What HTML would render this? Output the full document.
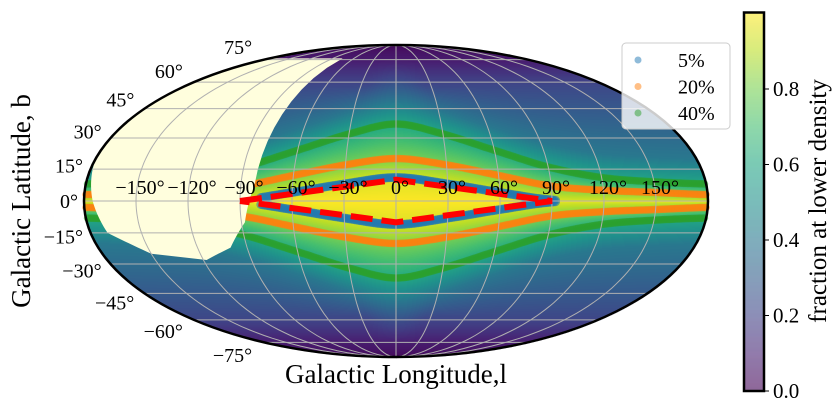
<!DOCTYPE html>
<html><head><meta charset="utf-8"><style>
html,body{margin:0;padding:0;background:#fff;width:838px;height:412px;overflow:hidden}
#wrap{position:relative;width:838px;height:412px}
canvas,svg{position:absolute;left:0;top:0}
text{font-family:"Liberation Serif",serif;fill:#000}
</style></head><body>
<div id="wrap">
<canvas id="heat" width="838" height="412"></canvas>
<svg id="svg" width="838" height="412"></svg>
</div>
<script>
// ---- data ----
const lonKnots = [-180,-150,-120,-90,-60,-30,0,30,60,90,120,150,180];
const width5  = [0,0,0,0.5,4,8,11,8,4,0.5,0,0,0];
const width20 = [3,4,5,7,12,17,20,17,12,7,5,4,3];
const width40 = [8,9,11,16,24,32,37,32,24,16,11,9,8];
const seriesNames = ["5%","20%","40%"];
const maskLon = [-76,-82,-88,-100,-118,-150,-170,-175,-178,-180];
const maskLat = [76,8,-10,-22,-28,-25,-15,0,12,20];
const diamondLon = [-90,0,90,0,-90];
const diamondLat = [0,10,0,-10,0];
const lonTicks = [-150,-120,-90,-60,-30,0,30,60,90,120,150];
const latTicks = [-75,-60,-45,-30,-15,0,15,30,45,60,75];
const cbTicks = [0.0,0.2,0.4,0.6,0.8];

// ---- projection ----
const CX=396, CY=201, A=312, B=156;
function theta(lat){const t=Math.PI*Math.sin(lat*Math.PI/180);let th=lat*Math.PI/180;
  for(let i=0;i<30;i++){const f=2*th+Math.sin(2*th)-t;const d=2+2*Math.cos(2*th);if(Math.abs(d)<1e-9)break;th-=f/d;}return th;}
function proj(lon,lat){const th=theta(lat);return [CX+A*(lon/180)*Math.cos(th), CY-B*Math.sin(th)];}
function interp(xs,ys,x){if(x<=xs[0])return ys[0];for(let i=1;i<xs.length;i++){if(x<=xs[i]){const t=(x-xs[i-1])/(xs[i]-xs[i-1]);return ys[i-1]+t*(ys[i]-ys[i-1]);}}return ys[ys.length-1];}
// smooth (Catmull-Rom) interpolation for contour widths
function smooth(xs,ys,x){if(x<=xs[0])return ys[0];if(x>=xs[xs.length-1])return ys[ys.length-1];
  let i=1;while(x>xs[i])i++;const t=(x-xs[i-1])/(xs[i]-xs[i-1]);
  const p0=ys[Math.max(0,i-2)],p1=ys[i-1],p2=ys[i],p3=ys[Math.min(ys.length-1,i+1)];
  const v=0.5*((2*p1)+(-p0+p2)*t+(2*p0-5*p1+4*p2-p3)*t*t+(-p0+3*p1-3*p2+p3)*t*t*t);return Math.max(0,v);}
function viridis(t){t=Math.max(0,Math.min(1,t));
  const c=[[68,1,84],[72,35,116],[64,67,135],[52,94,141],[41,120,142],[32,144,140],[34,167,132],[68,190,112],[121,209,81],[189,222,38],[253,231,37]];
  const p=t*10,i=Math.min(9,Math.floor(p)),f=p-i;return c[i].map((v,k)=>v+f*(c[i+1][k]-v));}

// ---- heatmap ----
const ctx=document.getElementById('heat').getContext('2d');
const img=ctx.createImageData(838,412);
for(let y=0;y<412;y++){const s=(CY-y)/B;if(Math.abs(s)>1)continue;const th=Math.asin(s);
  const lat=Math.asin(Math.max(-1,Math.min(1,(2*th+Math.sin(2*th))/Math.PI)))*180/Math.PI;
  for(let x=0;x<838;x++){const lon=180*(x-CX)/(A*Math.cos(th));if(Math.abs(lon)>180)continue;
    const wb=smooth(lonKnots,width5,lon),wo=smooth(lonKnots,width20,lon),wg=smooth(lonKnots,width40,lon);
    const b=Math.abs(lat);
    const v=interp([0,Math.max(wb,0.01),wo,wg,wg+12,Math.max(wg+25,58),75,90],[1,0.95,0.8,0.6,0.4,0.22,0.08,0.02],b);
    const c=viridis(v);const o=(y*838+x)*4;img.data[o]=c[0];img.data[o+1]=c[1];img.data[o+2]=c[2];img.data[o+3]=255;}}
ctx.putImageData(img,0,0);

// ---- svg ----
const NS="http://www.w3.org/2000/svg", svg=document.getElementById('svg');
function mk(tag,attrs,parent){const e=document.createElementNS(NS,tag);for(const k in attrs)e.setAttribute(k,attrs[k]);(parent||svg).appendChild(e);return e;}

// mask (unobserved region)
let pts=[];
for(let l=-180;l<=maskLon[0];l+=2)pts.push(proj(l,76));
for(let i=0;i<maskLon.length-1;i++){for(let k=0;k<10;k++){const t=k/10;pts.push(proj(maskLon[i]+t*(maskLon[i+1]-maskLon[i]),maskLat[i]+t*(maskLat[i+1]-maskLat[i])));}}
for(let la=maskLat[maskLat.length-1];la<=76;la+=2)pts.push(proj(-180,la));
const mask=mk('polygon',{points:pts.map(p=>p.join(',')).join(' '),fill:'#fffedd'});



// grid
const grid=mk('g',{stroke:'#b0b0b0','stroke-width':1,fill:'none'});


for(const la of latTicks){const p1=proj(-180,la),p2=proj(180,la);const ln=mk('line',{x1:p1[0],y1:p1[1],x2:p2[0],y2:p2[1]},grid);
  
  }
for(let lo=-150;lo<=150;lo+=30){let d='';for(let la=-90;la<=90;la+=2){const p=proj(lo,la);d+=(la==-90?'M':'L')+p[0].toFixed(1)+','+p[1].toFixed(1);}
  const m=mk('path',{d:d},grid);
  
  }

// contours
const colors=['#1f77b4','#ff7f0e','#2ca02c'];
const widths=[width5,width20,width40];
for(let s=2;s>=0;s--){const g=mk('g',{fill:colors[s],'fill-opacity':0.55});
  
  
  for(let lo=-179;lo<=179;lo+=1){const w=smooth(lonKnots,widths[s],lo);
    if(s===0&&(lo<-78||lo>92))continue;
    for(const sg of [1,-1]){const p=proj(lo,sg*w);const c=mk('circle',{cx:p[0].toFixed(1),cy:p[1].toFixed(1),r:s===0?4.5:3.8},g);
      
      }}}
svg.appendChild(mask);svg.appendChild(grid);

// diamond
let dd='';for(let i=0;i<diamondLon.length;i++){const p=proj(diamondLon[i],diamondLat[i]);dd+=(i?'L':'M')+p[0].toFixed(1)+','+p[1].toFixed(1);}
const dia=mk('path',{d:dd,fill:'none',stroke:'#ff0000','stroke-width':6,'stroke-dasharray':'22,9'});



// outline
const el=mk('ellipse',{cx:CX,cy:CY,rx:A,ry:B,fill:'none',stroke:'#000','stroke-width':2.5});



// lon labels
for(const lo of lonTicks){const p=proj(lo,0);const t=mk('text',{x:p[0]+4,y:CY-7,'font-size':20,'text-anchor':'middle'});
  t.textContent=(lo<0?'\u2212'+(-lo):lo)+'\u00b0';
  
  }
// lat labels
for(const la of latTicks){const p=proj(-180,la);const s=Math.sin(la*Math.PI/180);
  const t=mk('text',{x:p[0]-6-6*Math.abs(s),y:p[1]-13*s+7,'font-size':20,'text-anchor':'end'});
  t.textContent=(la<0?'\u2212'+(-la):la)+'\u00b0';
  
  }

// axis titles
const xt=mk('text',{x:396,y:383,'font-size':27,'text-anchor':'middle'});xt.textContent='Galactic Longitude,l';


const yt=mk('text',{x:0,y:0,'font-size':27,'text-anchor':'middle',transform:'translate(30,201) rotate(-90)'});yt.textContent='Galactic Latitude, b';



// legend
const lg=mk('g',{});


mk('rect',{x:622,y:43,width:108,height:86,rx:4,fill:'#fff','fill-opacity':0.8,stroke:'#ccc'},lg);
for(let i=0;i<3;i++){const y=60+i*26.5;
  const c=mk('circle',{cx:638,cy:y,r:3.5,fill:colors[i],'fill-opacity':0.5},lg);
  
  
  const t=mk('text',{x:678,y:y+7,'font-size':20},lg);t.textContent=seriesNames[i];
  
  }

// colorbar
const cb=mk('g',{});


const CB_T=13.5,CB_B=391,CB_X=744,CB_W=20;
const cbY=v=>CB_B-(CB_B-CB_T)*v;
for(let y=CB_T;y<CB_B;y+=1){const v=(CB_B-y)/(CB_B-CB_T)*0.995;const c=viridis(v);
  mk('rect',{x:CB_X,y:y,width:CB_W,height:1.2,fill:'rgb('+c.map(Math.round).join(',')+')','fill-opacity':0.55},cb);}
mk('rect',{x:CB_X,y:CB_T-1,width:CB_W,height:CB_B-CB_T+1,fill:'none',stroke:'#000','stroke-width':2.5},cb);
for(const v of cbTicks){const y=cbY(v);mk('line',{x1:CB_X+CB_W,y1:y,x2:CB_X+CB_W+5,y2:y,stroke:'#000'},cb);
  const t=mk('text',{x:CB_X+CB_W+9,y:y+7,'font-size':21},cb);t.textContent=v.toFixed(1);
  
  }
const ct=mk('text',{x:0,y:0,'font-size':25,'text-anchor':'middle',transform:'translate(826,201) rotate(-90)'},cb);ct.textContent='fraction at lower density';


</script>
</body></html>
